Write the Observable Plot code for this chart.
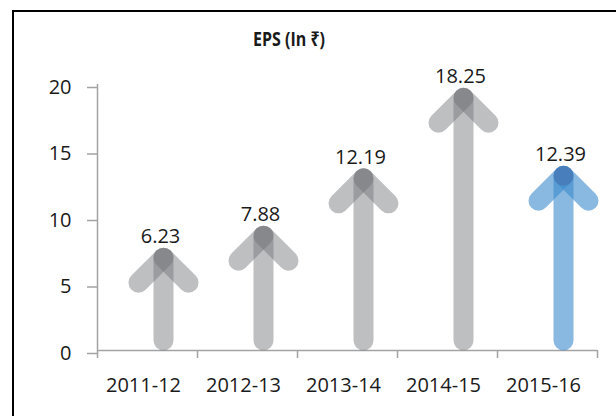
<!DOCTYPE html>
<html>
<head>
<meta charset="utf-8">
<script src="https://cdn.jsdelivr.net/npm/d3@7"></script>
<script src="https://cdn.jsdelivr.net/npm/@observablehq/plot@0.6"></script>
<style>
  html, body { margin: 0; padding: 0; background: #fff; }
  #wrap { position: relative; width: 616px; height: 416px; overflow: hidden; background: #fff; }
  #frame { position: absolute; left: 12px; top: 10px; width: 700px; height: 500px; border: 2.5px solid #000; box-sizing: border-box; }
  #title { position: absolute; left: 289px; top: 28.5px; line-height: 1; font-family: "Open Sans", "Noto Sans", "DejaVu Sans", sans-serif; font-weight: 700; font-size: 20px; color: #1a1a1a; white-space: nowrap; transform: translateX(-50%) scaleX(0.8); transform-origin: 50% 50%; }
  #chart { position: absolute; left: 0; top: 0; }
</style>
</head>
<body>
<div id="wrap">
  <div id="frame"></div>
  <div id="chart"></div>
  <div id="title">EPS (In ₹)</div>
</div>
<script>
// ---- data ----
const categories = ["2011-12", "2012-13", "2013-14", "2014-15", "2015-16"];
const eps = [6.23, 7.88, 12.19, 18.25, 12.39];
const yTicks = [0, 5, 10, 15, 20];
const boundaryTicks = [0, 1, 2, 3, 4, 5];

// table built from the arrays
const rows = categories.map((c, i) => ({ cat: c, i, x: i + 0.5, v: eps[i] }));
const lastIdx = categories.length - 1;
const grayRows = rows.filter(d => d.i !== lastIdx);
const blueRows = rows.filter(d => d.i === lastIdx);

// arrow geometry (in scale units): head arms reach 25px sideways and 25px down
const pxPerX = 500 / 5;
const pxPerY = 266 / 20;
const armX = 25 / pxPerX;
const armY = 25 / pxPerY;

const arms = rs => rs.flatMap(d => [-1, 1].map(s => ({ ...d, s })));

const GRAY = "#6f7175", GRAY_OP = 0.45;
const BLUE = "#3a8bcb", BLUE_OP = 0.6;
const AX = "#a3a3a3";
const TXT = "#1a1a1a";

function arrowMarks(rs, color, op) {
  const common = { stroke: color, strokeOpacity: op, strokeWidth: 20, strokeLinecap: "round", dx: 16, dy: -10 };
  return [
    Plot.link(rs, { x1: "x", x2: "x", y1: () => 0, y2: "v", ...common }),
    Plot.link(arms(rs), { x1: "x", y1: "v", x2: d => d.x + d.s * armX, y2: d => d.v - armY, ...common })
  ];
}

const chart = Plot.plot({
  width: 616,
  height: 416,
  marginLeft: 97,
  marginRight: 19,
  marginTop: 84,
  marginBottom: 66,
  x: { type: "linear", domain: [0, 5], axis: null },
  y: { domain: [0, 20], axis: null },
  style: { fontFamily: "'Open Sans', 'Noto Sans', sans-serif", fontSize: "20px", color: TXT, background: "transparent" },
  marks: [
    Plot.axisY({ ticks: yTicks, tickSize: 10, tickPadding: 16, stroke: AX, fill: TXT, strokeWidth: 1.5, fontSize: 20, dy: 3, tickFormat: d => String(d), label: null }),
    Plot.axisX({ ticks: boundaryTicks, tickSize: 8, tickFormat: () => "", stroke: AX, strokeWidth: 1.5, label: null }),
    Plot.ruleX([0], { y1: () => 0, y2: () => 20, stroke: AX, strokeWidth: 1.5 }),
    Plot.ruleY([0], { stroke: AX, strokeWidth: 1.5 }),
    Plot.text(rows, { x: "x", text: "cat", frameAnchor: "bottom", dy: 41, dx: -4, fontSize: 20, fill: TXT }),
    ...arrowMarks(grayRows, GRAY, GRAY_OP),
    ...arrowMarks(blueRows, BLUE, BLUE_OP),
    Plot.dot(blueRows, { x: "x", y: "v", r: 10, fill: "#4a4f8f", fillOpacity: 0.3, stroke: "none", dx: 16, dy: -10 }),
    Plot.text(rows, { x: "x", y: "v", text: d => d.v.toFixed(2), dx: 13, dy: -31, fontSize: 20, fill: TXT })
  ]
});
document.getElementById("chart").appendChild(chart);
</script>
</body>
</html>
